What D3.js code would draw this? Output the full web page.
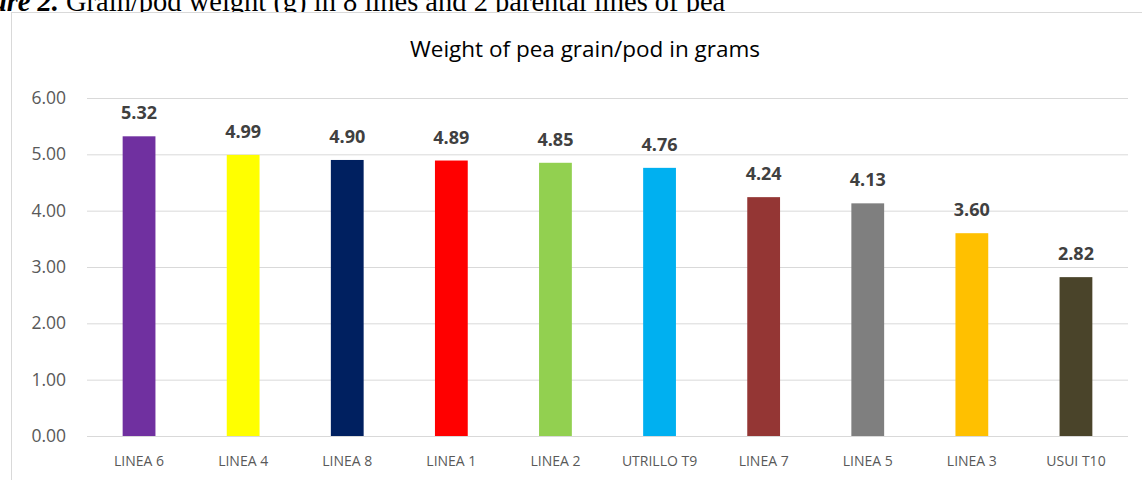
<!DOCTYPE html>
<html>
<head>
<meta charset="utf-8">
<script src="https://cdn.jsdelivr.net/npm/d3@7"></script>
<style>
  html, body { margin: 0; padding: 0; background: #fff; overflow: hidden; }
  svg { display: block; }
</style>
</head>
<body>
<div id="chart"></div>
<script>
// chart data
const categories = ['LINEA 6', 'LINEA 4', 'LINEA 8', 'LINEA 1', 'LINEA 2', 'UTRILLO T9', 'LINEA 7', 'LINEA 5', 'LINEA 3', 'USUI T10'];
const weights = [5.32, 4.99, 4.90, 4.89, 4.85, 4.76, 4.24, 4.13, 3.60, 2.82];
const barColors = ['#7030A0', '#FFFF00', '#002060', '#FF0000', '#92D050', '#00B0F0', '#943634', '#7F7F7F', '#FFC000', '#4A442A'];
const yTicks = [0, 1, 2, 3, 4, 5, 6];

const W = 1142, H = 480;
const margin = { top: 98, right: 14, bottom: 44, left: 87 };
const font = '"Open Sans", sans-serif';
const serif = '"Liberation Serif", "Times New Roman", serif';

const svg = d3.select('#chart').append('svg')
  .attr('width', W)
  .attr('height', H);

// caption line from the paper, cut at the top of the picture
svg.append('text')
  .attr('x', 59)
  .attr('y', 11)
  .attr('text-anchor', 'end')
  .style('font-family', serif)
  .style('font-size', '28.5px')
  .style('font-weight', 'bold')
  .style('font-style', 'italic')
  .text('Figure 2.');
svg.append('text')
  .attr('x', 66)
  .attr('y', 11)
  .style('font-family', serif)
  .style('font-size', '28.5px')
  .text('Grain/pod weight (g) in 8 lines and 2 parental lines of pea');

// chart area frame
svg.append('rect')
  .attr('x', 11.5)
  .attr('y', 12.5)
  .attr('width', W)
  .attr('height', H)
  .attr('fill', '#fff')
  .attr('stroke', '#d9d9d9');

const x = d3.scaleBand()
  .domain(categories)
  .range([margin.left, W - margin.right])
  .paddingInner(0.685)
  .paddingOuter(0.3425);

const y = d3.scaleLinear()
  .domain([0, 6])
  .range([H - margin.bottom, margin.top]);

// title
svg.append('text')
  .attr('x', 585)
  .attr('y', 57)
  .attr('text-anchor', 'middle')
  .style('font-family', font)
  .style('font-size', '22.5px')
  .style('fill', '#000')
  .text('Weight of pea grain/pod in grams');

// gridlines + y labels
const yAxis = svg.append('g')
  .attr('transform', `translate(${margin.left},0)`)
  .call(d3.axisLeft(y).tickValues(yTicks).tickSize(-(W - margin.left - margin.right)).tickFormat(d3.format('.2f')).tickPadding(21));
yAxis.select('.domain').remove();
yAxis.selectAll('line').attr('stroke', '#d9d9d9');
yAxis.selectAll('text')
  .style('font-family', font)
  .style('font-size', '17.5px')
  .style('fill', '#595959');

// bars
svg.selectAll('.bar')
  .data(categories)
  .enter()
  .append('rect')
  .attr('class', 'bar')
  .attr('x', d => x(d))
  .attr('y', (d, i) => y(weights[i]))
  .attr('width', x.bandwidth())
  .attr('height', (d, i) => y(0) - y(weights[i]))
  .attr('fill', (d, i) => barColors[i]);

// baseline
svg.append('line')
  .attr('x1', margin.left)
  .attr('x2', W - margin.right)
  .attr('y1', y(0) + 0.5)
  .attr('y2', y(0) + 0.5)
  .attr('stroke', '#d9d9d9');

// x labels
const xAxis = svg.append('g')
  .attr('transform', `translate(0,${y(0)})`)
  .call(d3.axisBottom(x).tickSize(0));
xAxis.select('.domain').remove();
xAxis.selectAll('text')
  .attr('y', 30)
  .attr('dy', 0)
  .style('font-family', font)
  .style('font-size', '14px')
  .style('fill', '#595959');

// value labels
svg.selectAll('.label')
  .data(categories)
  .enter()
  .append('text')
  .attr('class', 'label')
  .attr('x', d => x(d) + x.bandwidth() / 2)
  .attr('y', (d, i) => y(weights[i]) - 17)
  .attr('text-anchor', 'middle')
  .style('font-family', font)
  .style('font-size', '18px')
  .style('font-weight', 'bold')
  .style('fill', '#404040')
  .text((d, i) => weights[i].toFixed(2));
</script>
</body>
</html>
